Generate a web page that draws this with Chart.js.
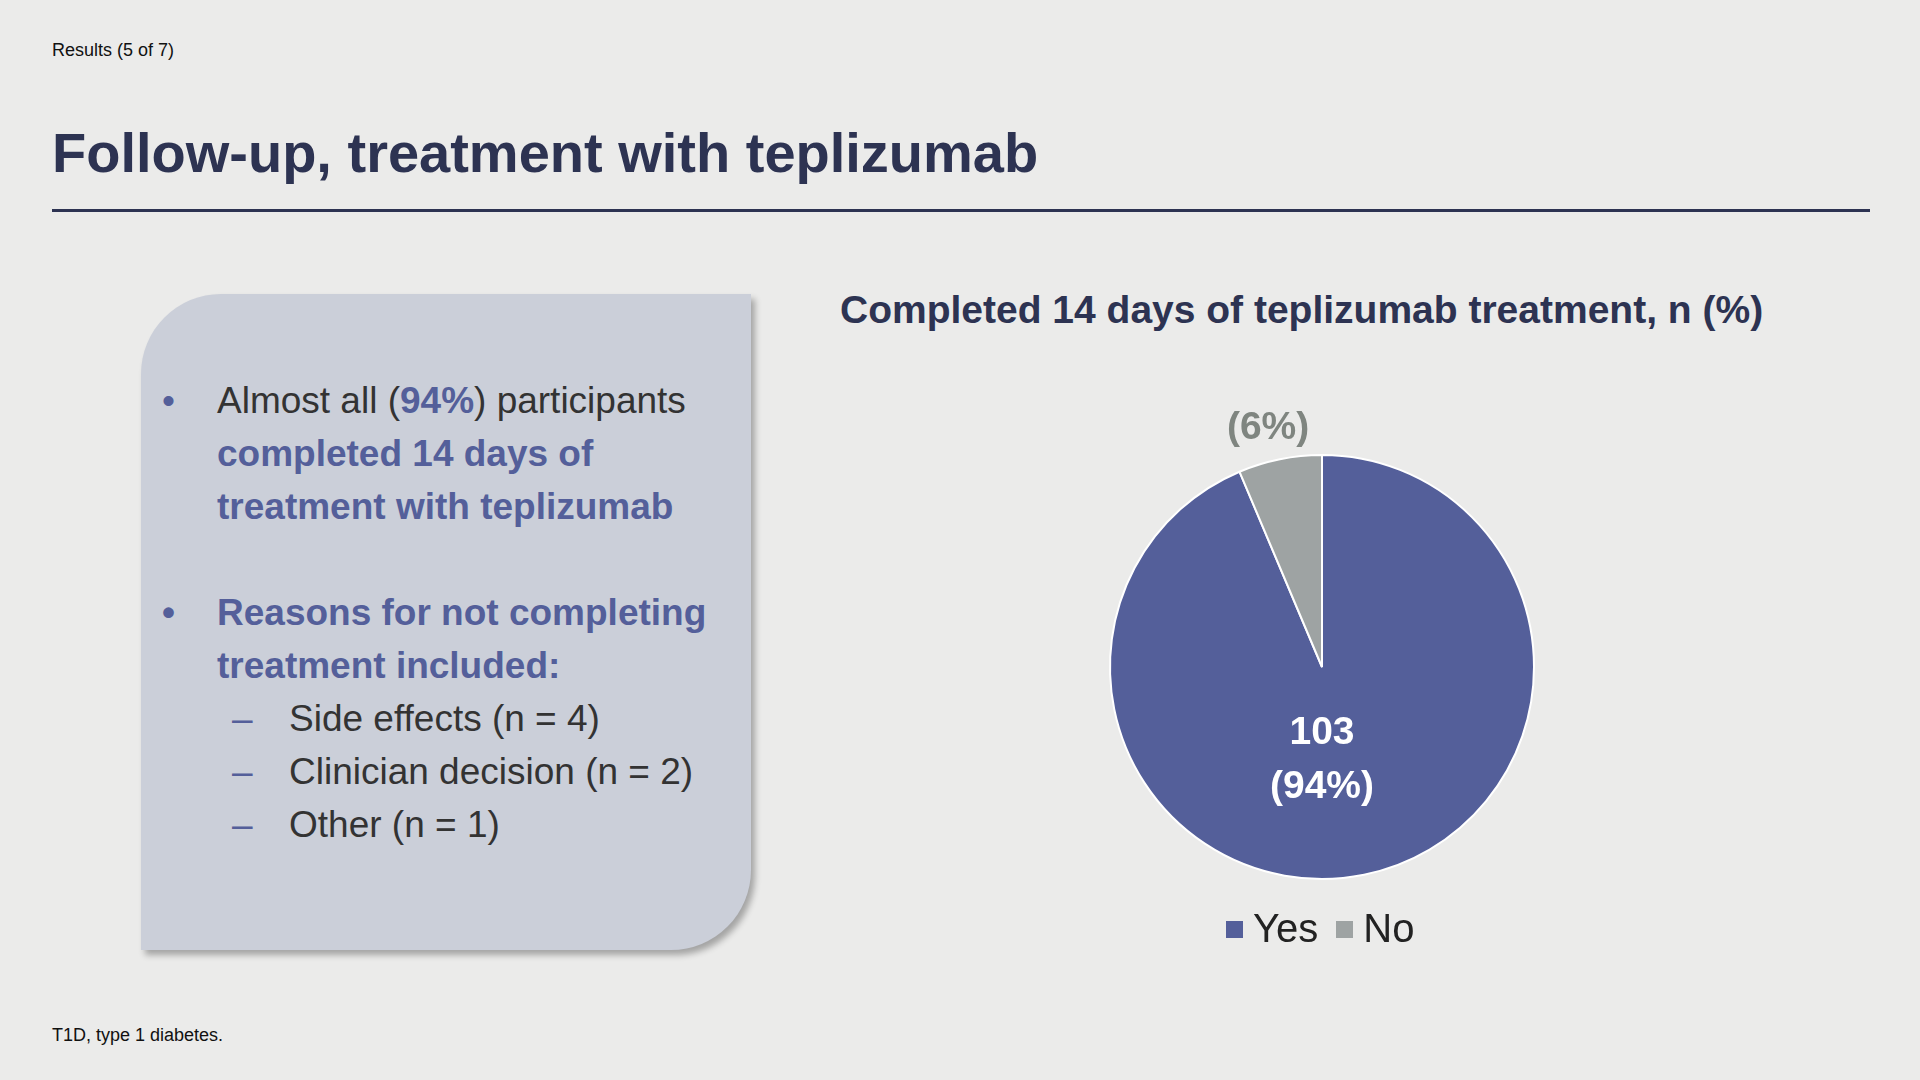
<!DOCTYPE html>
<html>
<head>
<meta charset="utf-8">
<script src="https://cdn.jsdelivr.net/npm/chart.js@4"></script>
<style>
  body { margin:0; width:1920px; height:1080px; background:#ebebea; font-family:"Liberation Sans", Arial, sans-serif; position:relative; overflow:hidden; }
  .abs { position:absolute; }
  #kicker { left:52px; top:40px; font-size:18px; color:#111; }
  #title { left:52px; top:120px; font-size:56px; font-weight:bold; color:#2d3352; }
  #rule { left:52px; top:209px; width:1818px; height:3px; background:#2d3352; }
  #box { left:141px; top:294px; width:610px; height:656px; background:#cbcfd9; border-radius:80px 0 80px 0; box-shadow:4px 5px 6px rgba(0,0,0,0.3); }
  #text { left:162px; top:374px; width:600px; font-size:37px; line-height:53px; color:#333; }
  .b { position:relative; padding-left:55px; }
  .b:before { content:"•"; position:absolute; left:0; color:#545f9a; }
  .s { position:relative; padding-left:127px; }
  .s:before { content:"–"; position:absolute; left:70px; color:#545f9a; }
  .hl { color:#545f9a; font-weight:bold; }
  #ctitle { left:840px; top:288px; font-size:39px; font-weight:bold; color:#2d3352; white-space:nowrap; }
  #pie { left:1062px; top:407px; }
  #legend { left:1226px; top:906px; font-size:40px; color:#222; display:flex; gap:18px; }
  #legend span i { display:inline-block; width:17px; height:17px; margin-right:10px; vertical-align:4px; }
  #foot { left:52px; top:1025px; font-size:18px; color:#111; }
</style>
</head>
<body>
<div class="abs" id="kicker">Results (5 of 7)</div>
<div class="abs" id="title">Follow-up, treatment with teplizumab</div>
<div class="abs" id="rule"></div>
<div class="abs" id="box"></div>
<div class="abs" id="text">
  <div class="b">Almost all (<span class="hl">94%</span>) participants <span class="hl">completed 14 days of treatment with teplizumab</span></div>
  <div style="height:53px"></div>
  <div class="b hl">Reasons for not completing treatment included:</div>
  <div class="s">Side effects (n = 4)</div>
  <div class="s">Clinician decision (n = 2)</div>
  <div class="s">Other (n = 1)</div>
</div>
<div class="abs" id="ctitle">Completed 14 days of teplizumab treatment, n (%)</div>
<canvas class="abs" id="pie" width="520" height="520" style="width:520px;height:520px"></canvas>
<div class="abs" id="legend"></div>
<div class="abs" id="foot">T1D, type 1 diabetes.</div>
<script>
const categories = ["Yes", "No"];
const counts = [103, 7];
const percents = [94, 6];
const colors = ["#545f9a", "#9ea3a3"];
const labelColors = ["#ffffff", "#7f8580"];

document.getElementById("legend").innerHTML = categories
  .map((c, i) => `<span><i style="background:${colors[i]}"></i>${c}</span>`).join("");

const pieLabels = {
  id: "pieLabels",
  afterDatasetsDraw(chart) {
    const ctx = chart.ctx;
    chart.getDatasetMeta(0).data.forEach((arc, i) => {
      const mid = (arc.startAngle + arc.endAngle) / 2;
      const r = arc.outerRadius;
      const d = i === 0 ? 0.45 * r : 1.28 * r;
      const x = arc.x + Math.cos(mid) * d * (i === 0 ? 0 : 1);
      const y = arc.y + Math.sin(mid) * d;
      ctx.save();
      ctx.fillStyle = labelColors[i];
      ctx.font = "bold 39px 'Liberation Sans', Arial";
      ctx.textAlign = "center";
      ctx.textBaseline = "middle";
      ctx.fillText(String(counts[i]), x, y - 27);
      ctx.fillText(`(${percents[i]}%)`, x, y + 27);
      ctx.restore();
    });
  }
};

new Chart(document.getElementById("pie"), {
  type: "pie",
  data: {
    labels: categories,
    datasets: [{ data: counts, backgroundColor: colors, borderColor: "#ffffff", borderWidth: 2 }]
  },
  options: {
    responsive: false,
    animation: false,
    layout: { padding: 47 },
    plugins: { legend: { display: false }, tooltip: { enabled: false } }
  },
  plugins: [pieLabels]
});
</script>
</body>
</html>
